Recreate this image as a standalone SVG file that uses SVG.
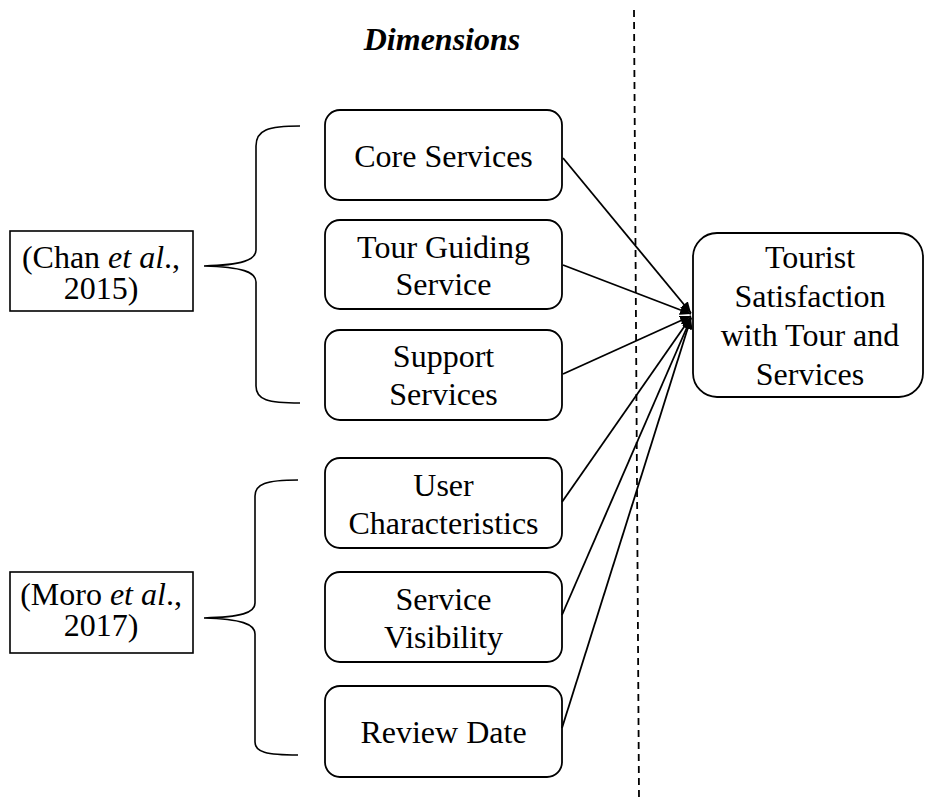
<svg xmlns="http://www.w3.org/2000/svg" width="925" height="798" viewBox="0 0 925 798">
  <style>
    text { font-family: "Liberation Serif", "Times New Roman", serif; font-size: 32px; fill: #000; text-anchor: middle; }
    .box { fill: #fff; stroke: #000; stroke-width: 1.8; }
    .cite { fill: #fff; stroke: #000; stroke-width: 1.6; }
    .brace { fill: none; stroke: #000; stroke-width: 1.6; }
    .link { stroke: #000; stroke-width: 1.8; fill: none; marker-end: url(#head); }
    .divider { stroke: #000; stroke-width: 1.8; stroke-dasharray: 7 5; fill: none; }
  </style>
  <defs>
    <marker id="head" markerUnits="userSpaceOnUse" markerWidth="12" markerHeight="10" refX="11" refY="5" orient="auto">
      <path d="M0,0 L11,5 L0,10 z" fill="#000"/>
    </marker>
  </defs>
  <rect width="925" height="798" fill="#fff"/>

  <!-- vertical separator -->
  <line class="divider" x1="634" y1="10" x2="639" y2="798"/>

  <!-- heading -->
  <text x="442" y="50" font-weight="bold" font-style="italic">Dimensions</text>

  <!-- source groupings -->
  <g id="chan">
    <rect class="cite" x="10" y="231" width="183" height="80"/>
    <text x="101" y="268">(Chan <tspan font-style="italic">et al</tspan>.,</text>
    <text x="101" y="299">2015)</text>
    <path class="brace" d="M300,126 C268,126 256,130 256,146 L256,250 C256,260 242,265 204,266 C242,267 256,272 256,282 L256,386 C256,400 268,403 300,403"/>
  </g>
  <g id="moro">
    <rect class="cite" x="10" y="572" width="183" height="81"/>
    <text x="101" y="605">(Moro <tspan font-style="italic">et al</tspan>.,</text>
    <text x="101" y="636">2017)</text>
    <path class="brace" d="M298,480 C266,480 255,484 255,496 L255,603 C255,613 241,617 204,618 C241,619 255,624 255,634 L255,742 C255,752 266,755 298,755"/>
  </g>

  <!-- dimension nodes -->
  <g id="core-services">
    <rect class="box" x="325" y="110" width="237" height="90" rx="15"/>
    <text x="443.5" y="167">Core Services</text>
  </g>
  <g id="tour-guiding">
    <rect class="box" x="325" y="220" width="237" height="89" rx="15"/>
    <text x="443.5" y="258">Tour Guiding</text>
    <text x="443.5" y="295">Service</text>
  </g>
  <g id="support-services">
    <rect class="box" x="325" y="330" width="237" height="90" rx="15"/>
    <text x="443.5" y="367">Support</text>
    <text x="443.5" y="405">Services</text>
  </g>
  <g id="user-characteristics">
    <rect class="box" x="325" y="458" width="237" height="90" rx="15"/>
    <text x="443.5" y="496">User</text>
    <text x="443.5" y="534">Characteristics</text>
  </g>
  <g id="service-visibility">
    <rect class="box" x="325" y="572" width="237" height="90" rx="15"/>
    <text x="443.5" y="610">Service</text>
    <text x="443.5" y="648">Visibility</text>
  </g>
  <g id="review-date">
    <rect class="box" x="325" y="686" width="237" height="91" rx="15"/>
    <text x="443.5" y="743">Review Date</text>
  </g>

  <!-- outcome node -->
  <g id="tourist-satisfaction">
    <rect class="box" x="693" y="233" width="230" height="164" rx="24"/>
    <text x="810" y="268">Tourist</text>
    <text x="810" y="307">Satisfaction</text>
    <text x="810" y="346">with Tour and</text>
    <text x="810" y="385">Services</text>
  </g>

  <!-- connectors -->
  <g id="connectors">
    <line class="link" x1="563" y1="158" x2="691" y2="313"/>
    <line class="link" x1="563" y1="265" x2="691" y2="314"/>
    <line class="link" x1="563" y1="374" x2="691" y2="316"/>
    <line class="link" x1="562" y1="502" x2="691" y2="317"/>
    <line class="link" x1="562" y1="615" x2="691" y2="318"/>
    <line class="link" x1="562" y1="728" x2="691" y2="318"/>
  </g>
</svg>
